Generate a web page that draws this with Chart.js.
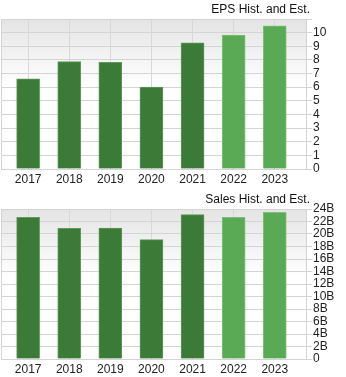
<!DOCTYPE html>
<html>
<head>
<meta charset="utf-8">
<script src="https://cdn.jsdelivr.net/npm/chart.js@4/dist/chart.umd.min.js"></script>
<style>
  body { margin: 0; background: #fff; }
  canvas { display: block; }
</style>
</head>
<body>
<canvas id="epsChart" width="346" height="188"></canvas>
<canvas id="salesChart" width="346" height="189"></canvas>
<script>
// Fiscal years, last two are estimates
const years = ["2017", "2018", "2019", "2020", "2021", "2022", "2023"];
const estimated = [false, false, false, false, false, true, true];

// EPS per share
const eps = [6.62, 7.87, 7.82, 6.01, 9.26, 9.82, 10.5];

// Sales in billions
const sales = [22.67, 20.9, 20.96, 19.1, 23.1, 22.67, 23.47];

const darkGreen = "#3c7a38";
const lightGreen = "#5aaa55";

// Grey-to-white backdrop behind the plot, plus the header text at top right
const plotBackdrop = {
  id: "plotBackdrop",
  beforeDraw(chart, args, opts) {
    const { ctx, chartArea: a } = chart;
    const grad = ctx.createLinearGradient(0, a.top, 0, a.bottom);
    grad.addColorStop(0, "#e4e4e4");
    grad.addColorStop(0.45, "#ffffff");
    grad.addColorStop(1, "#ffffff");
    ctx.save();
    ctx.fillStyle = grad;
    ctx.fillRect(a.left, a.top, a.right - a.left, a.bottom - a.top);
    ctx.strokeStyle = "#d4d4d4";
    ctx.lineWidth = 1;
    ctx.beginPath();
    ctx.moveTo(a.left + 0.5, a.top);
    ctx.lineTo(a.left + 0.5, a.bottom);
    ctx.stroke();
    ctx.restore();
  },
  afterDraw(chart, args, opts) {
    const { ctx, chartArea: a } = chart;
    ctx.save();
    ctx.font = "12px 'Liberation Sans', Arial, sans-serif";
    ctx.fillStyle = "#111";
    ctx.textAlign = "right";
    ctx.textBaseline = "middle";
    ctx.fillText(opts.text, a.right + 4, a.top - opts.offset);
    ctx.restore();
  },
};

function makeChart(id, values, yMax, yStep, fmt, padTop, xHeight, header, headerOffset) {
  return new Chart(document.getElementById(id), {
    type: "bar",
    data: {
      datasets: [
        {
          data: values.map((v, i) => ({ x: i, y: v })),
          backgroundColor: estimated.map((e) => (e ? lightGreen : darkGreen)),
          borderColor: estimated.map((e) => (e ? "#7cc077" : "#5e9a5a")),
          borderWidth: 1,
          borderSkipped: "bottom",
          barThickness: 23,
        },
      ],
    },
    options: {
      responsive: false,
      animation: false,
      layout: { padding: { left: 1, top: padTop, right: 0, bottom: 0 } },
      plugins: {
        legend: { display: false },
        tooltip: { enabled: false },
        plotBackdrop: { text: header, offset: headerOffset },
      },
      scales: {
        x: {
          type: "linear",
          offset: false,
          min: -0.66,
          max: 6.76,
          grid: { color: "#d8d8d8", drawTicks: false, offset: false },
          border: { display: false },
          ticks: {
            stepSize: 1,
            includeBounds: false,
            autoSkip: false,
            maxRotation: 0,
            padding: 3,
            color: "#222",
            font: { family: "'Liberation Sans', Arial, sans-serif", size: 12 },
            callback: (v) => years[v] ?? "",
          },
          afterFit: (s) => { s.height = xHeight; },
        },
        y: {
          position: "right",
          min: 0,
          max: yMax,
          grid: { color: "#d4d4d4", tickLength: 6 },
          border: { color: "#d4d4d4" },
          ticks: {
            stepSize: yStep,
            autoSkip: false,
            padding: 1,
            color: "#222",
            font: { family: "'Liberation Sans', Arial, sans-serif", size: 12 },
            callback: fmt,
          },
          afterFit: (s) => { s.width = 40; },
        },
      },
    },
    plugins: [plotBackdrop],
  });
}

makeChart("epsChart", eps, 11, 1, (v) => (v > 10 ? "" : String(v)), 19, 19, "EPS Hist. and Est.", 9);
makeChart("salesChart", sales, 24, 2, (v) => (v === 0 ? "0" : v + "B"), 21, 18, "Sales Hist. and Est.", 9);
</script>
</body>
</html>
